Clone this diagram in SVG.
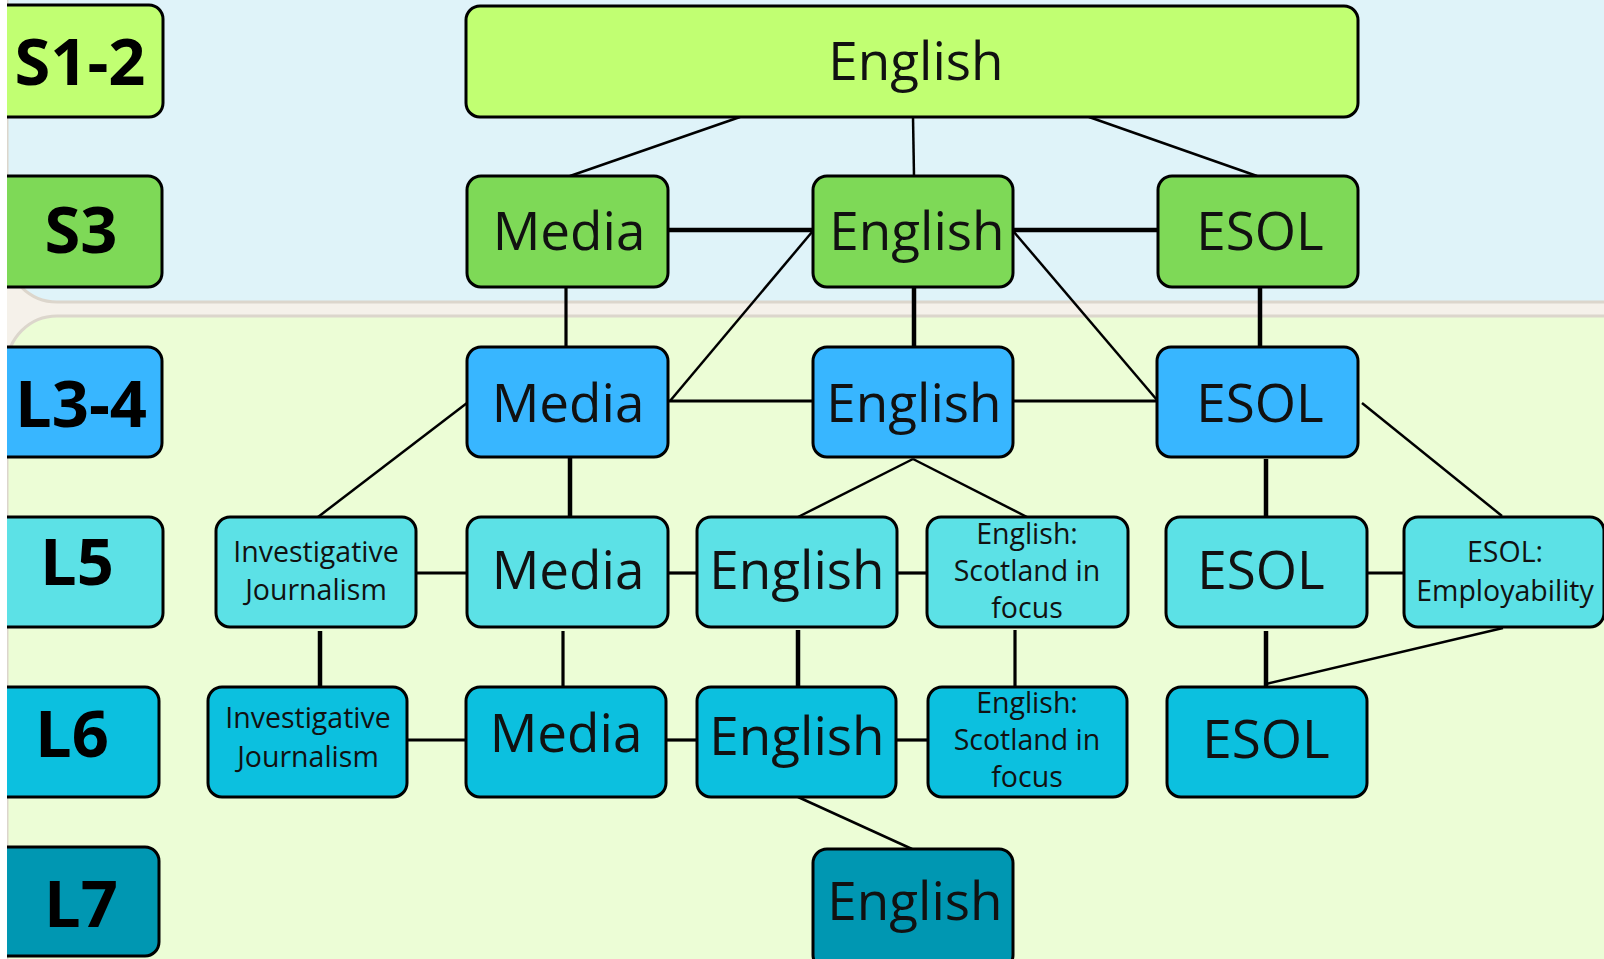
<svg xmlns="http://www.w3.org/2000/svg" width="1604" height="959" viewBox="0 0 1604 959">
<style>
.box{stroke:#000;stroke-width:3}
.lab{font-family:"Open Sans","Liberation Sans",sans-serif;font-weight:700;font-size:65px;fill:#000;text-anchor:middle}
.big{font-family:"Open Sans","Noto Sans",sans-serif;font-size:53px;fill:#111;text-anchor:middle}
.sm{font-family:"Open Sans","Noto Sans",sans-serif;font-size:28.5px;fill:#111;text-anchor:middle}
.c1{fill:#c1ff72}.c2{fill:#7ed957}.c3{fill:#38b6ff}.c4{fill:#5ce1e6}.c5{fill:#0cc0df}.c6{fill:#0097b2}
#connectors line{stroke:#000;stroke-linecap:butt}
.t{stroke-width:2.5}.m{stroke-width:3.2}.k{stroke-width:4.5}
</style>
<rect x="0" y="0" width="1604" height="959" fill="#f5f1ea"/>
<rect x="7" y="-60" width="1660" height="362" rx="50" fill="#dff3f9" stroke="#dcd6cc" stroke-width="3"/>
<rect x="7" y="316" width="1660" height="700" rx="50" fill="#ecfdd6" stroke="#dcd6cc" stroke-width="3"/>

<g id="connectors">
<line class="t" x1="740" y1="117" x2="570" y2="176"/>
<line class="t" x1="913" y1="117" x2="914" y2="176"/>
<line class="t" x1="1089" y1="117" x2="1257" y2="176"/>
<line class="k" x1="668" y1="230" x2="813" y2="230"/>
<line class="k" x1="1013" y1="230" x2="1158" y2="230"/>
<line class="t" x1="812" y1="232" x2="670" y2="401"/>
<line class="t" x1="1014" y1="232" x2="1157" y2="400"/>
<line class="m" x1="566" y1="287" x2="566" y2="347"/>
<line class="k" x1="914" y1="287" x2="914" y2="347"/>
<line class="k" x1="1260" y1="287" x2="1260" y2="347"/>
<line class="m" x1="668" y1="401" x2="813" y2="401"/>
<line class="m" x1="1013" y1="401" x2="1157" y2="401"/>
<line class="t" x1="467" y1="403" x2="318" y2="517"/>
<line class="k" x1="570" y1="457" x2="570" y2="517"/>
<line class="t" x1="913" y1="459" x2="798" y2="517"/>
<line class="t" x1="913" y1="459" x2="1027" y2="517"/>
<line class="k" x1="1266" y1="459" x2="1266" y2="517"/>
<line class="t" x1="1362" y1="403" x2="1502" y2="516"/>
<line class="m" x1="416" y1="573" x2="467" y2="573"/>
<line class="m" x1="668" y1="573" x2="697" y2="573"/>
<line class="m" x1="897" y1="573" x2="927" y2="573"/>
<line class="m" x1="1367" y1="573" x2="1404" y2="573"/>
<line class="k" x1="320" y1="631" x2="320" y2="687"/>
<line class="m" x1="563" y1="631" x2="563" y2="687"/>
<line class="k" x1="798" y1="630" x2="798" y2="687"/>
<line class="m" x1="1015" y1="630" x2="1015" y2="687"/>
<line class="k" x1="1266" y1="631" x2="1266" y2="687"/>
<line class="t" x1="1503" y1="628" x2="1266" y2="684"/>
<line class="m" x1="407" y1="740" x2="466" y2="740"/>
<line class="m" x1="666" y1="740" x2="697" y2="740"/>
<line class="m" x1="896" y1="740" x2="928" y2="740"/>
<line class="t" x1="798" y1="797" x2="912" y2="849"/>
</g>

<g id="label-s12"><rect class="box c1" x="-10" y="5" width="173" height="112" rx="14"/><text class="lab" x="80" y="85">S1-2</text></g>
<g id="label-s3"><rect class="box c2" x="-10" y="176" width="172" height="111" rx="14"/><text class="lab" x="81" y="253">S3</text></g>
<g id="label-l34"><rect class="box c3" x="-10" y="347" width="172" height="110" rx="14"/><text class="lab" x="81" y="427">L3-4</text></g>
<g id="label-l5"><rect class="box c4" x="-10" y="517" width="173" height="110" rx="14"/><text class="lab" x="77" y="585">L5</text></g>
<g id="label-l6"><rect class="box c5" x="-10" y="687" width="169" height="110" rx="14"/><text class="lab" x="72" y="757">L6</text></g>
<g id="label-l7"><rect class="box c6" x="-10" y="847" width="169" height="109" rx="14"/><text class="lab" x="81" y="927">L7</text></g>

<g id="s12-english"><rect class="box c1" x="466" y="6" width="892" height="111" rx="14"/><text class="big" x="916" y="80">English</text></g>

<g id="s3-media"><rect class="box c2" x="467" y="176" width="201" height="111" rx="14"/><text class="big" x="569" y="250">Media</text></g>
<g id="s3-english"><rect class="box c2" x="813" y="176" width="200" height="111" rx="14"/><text class="big" x="917" y="250">English</text></g>
<g id="s3-esol"><rect class="box c2" x="1158" y="176" width="200" height="111" rx="14"/><text class="big" x="1260" y="250">ESOL</text></g>

<g id="l34-media"><rect class="box c3" x="467" y="347" width="201" height="110" rx="14"/><text class="big" x="568" y="422">Media</text></g>
<g id="l34-english"><rect class="box c3" x="813" y="347" width="200" height="110" rx="14"/><text class="big" x="914" y="422">English</text></g>
<g id="l34-esol"><rect class="box c3" x="1157" y="347" width="201" height="110" rx="14"/><text class="big" x="1260" y="422">ESOL</text></g>

<g id="l5-invjour"><rect class="box c4" x="216" y="517" width="200" height="110" rx="14"/><text class="sm" x="316" y="562">Investigative</text><text class="sm" x="316" y="600">Journalism</text></g>
<g id="l5-media"><rect class="box c4" x="467" y="517" width="201" height="110" rx="14"/><text class="big" x="568" y="589">Media</text></g>
<g id="l5-english"><rect class="box c4" x="697" y="517" width="200" height="110" rx="14"/><text class="big" x="797" y="589">English</text></g>
<g id="l5-scotland"><rect class="box c4" x="927" y="517" width="201" height="110" rx="14"/><text class="sm" x="1027" y="544">English:</text><text class="sm" x="1027" y="581">Scotland in</text><text class="sm" x="1027" y="618">focus</text></g>
<g id="l5-esol"><rect class="box c4" x="1166" y="517" width="201" height="110" rx="14"/><text class="big" x="1261" y="589">ESOL</text></g>
<g id="l5-employ"><rect class="box c4" x="1404" y="517" width="200" height="110" rx="14"/><text class="sm" x="1505" y="562">ESOL:</text><text class="sm" x="1505" y="601">Employability</text></g>

<g id="l6-invjour"><rect class="box c5" x="208" y="687" width="199" height="110" rx="14"/><text class="sm" x="308" y="728">Investigative</text><text class="sm" x="308" y="767">Journalism</text></g>
<g id="l6-media"><rect class="box c5" x="466" y="687" width="200" height="110" rx="14"/><text class="big" x="566" y="752">Media</text></g>
<g id="l6-english"><rect class="box c5" x="697" y="687" width="199" height="110" rx="14"/><text class="big" x="797" y="755">English</text></g>
<g id="l6-scotland"><rect class="box c5" x="928" y="687" width="199" height="110" rx="14"/><text class="sm" x="1027" y="713">English:</text><text class="sm" x="1027" y="750">Scotland in</text><text class="sm" x="1027" y="787">focus</text></g>
<g id="l6-esol"><rect class="box c5" x="1167" y="687" width="200" height="110" rx="14"/><text class="big" x="1266" y="758">ESOL</text></g>

<g id="l7-english"><rect class="box c6" x="813" y="849" width="200" height="120" rx="14"/><text class="big" x="915" y="920">English</text></g>

<rect x="0" y="0" width="7" height="959" fill="#ffffff"/>
</svg>
